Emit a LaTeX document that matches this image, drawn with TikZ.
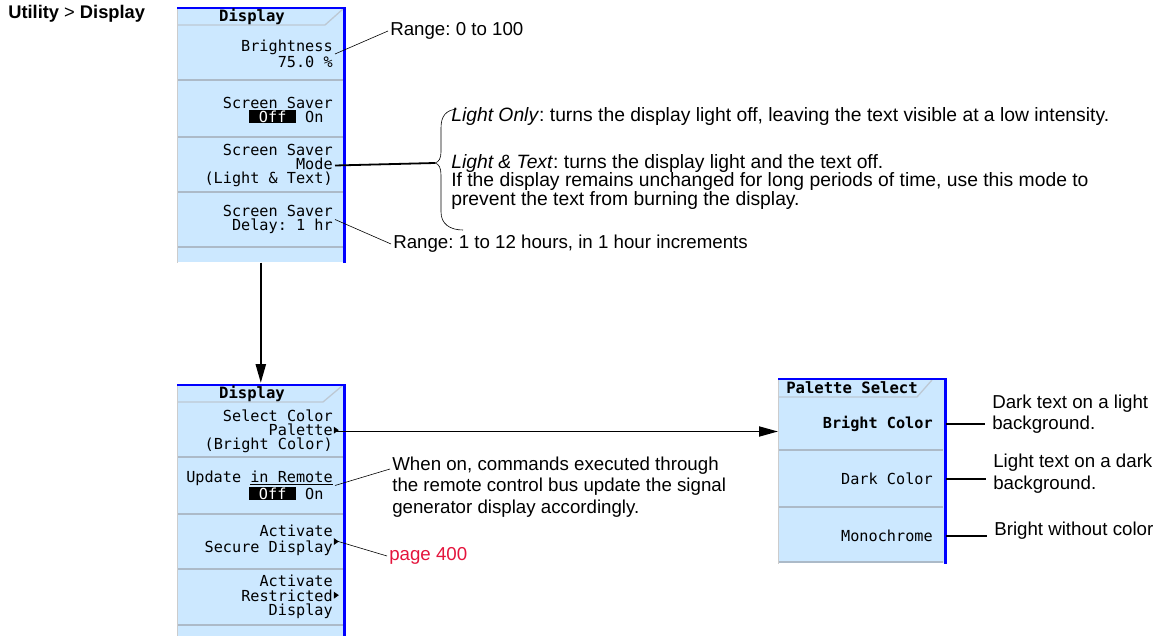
\documentclass[tikz,border=0pt]{standalone}
\usepackage{fontspec}
\usepackage{xcolor}
\usetikzlibrary{arrows.meta, positioning}
\setmainfont{Liberation Sans}
\newfontfamily\keyfont{DejaVu Sans Mono}
\frenchspacing
\definecolor{keyblue}{RGB}{204,232,255}
\definecolor{divgray}{RGB}{172,186,200}
\definecolor{edgeblue}{RGB}{0,0,255}
\definecolor{linkred}{RGB}{228,20,60}
\newcommand{\offon}{{\setlength{\fboxsep}{0.5pt}\colorbox{black}{\textcolor{white}{\ Off\ }}}\ On\hphantom{x}}
\newcommand{\more}[1][2pt]{\rlap{\kern1pt\raisebox{#1}{\tikz\fill (0pt,0pt) -- (0pt,7pt) -- (5pt,3.5pt) -- cycle;}}}

\begin{document}
\begin{tikzpicture}[x=1pt,y=-1pt,>={Triangle[length=19pt,width=10pt]},semithick]
        \tikzstyle{menu}=[fill=keyblue,minimum width=167pt,anchor=north west,inner sep=0pt]
        \tikzstyle{divider}=[draw=divgray,line width=1.5pt]
        \tikzstyle{tabline}=[draw=divgray!80,line width=1.3pt]
        \tikzstyle{blueedge}=[draw=edgeblue,line width=2.5pt]
        \tikzstyle{leftedge}=[draw=black!20,line width=0.8pt]
        \tikzstyle{softkey}=[font=\keyfont\fontsize{15.2}{14.3}\selectfont,align=right,anchor=east,inner sep=2pt]
        \tikzstyle{keytitle}=[font=\keyfont\bfseries\fontsize{15.6}{14.3}\selectfont,inner sep=0pt]
        \tikzstyle{note}=[font=\fontsize{18.7}{21.5}\selectfont,align=left,anchor=west,inner sep=2pt]

        \useasboundingbox (0,0) rectangle (1159,636);

        % menu panels
        \node[menu,minimum height=254pt] (menu1) at (177,8) {};
        \node[menu,minimum height=251pt] (menu2) at (177,385) {};
        \node[menu,minimum height=184pt] (palmenu) at (778,379) {};

        \foreach \y in {80,137,192,247} \draw[divider] (177,\y) -- (343,\y);
        \foreach \y in {457,514,569,625} \draw[divider] (177,\y) -- (343,\y);
        \foreach \y in {450,507,562} \draw[divider] (778,\y) -- (943,\y);
        \draw[tabline] (177,25) -- (325,25) -- (343,9);
        \draw[tabline] (177,402) -- (323,402) -- (342,386);
        \draw[tabline] (778,397) -- (917,397) -- (932,380);

        \draw[leftedge] (menu1.north west) -- (menu1.south west);
        \draw[leftedge] (menu2.north west) -- (menu2.south west);
        \draw[leftedge] (palmenu.north west) -- (palmenu.south west);
        \draw[blueedge] (menu1.north west) -- (menu1.north east) -- (menu1.south east);
        \draw[blueedge] (menu2.north west) -- (menu2.north east) -- (menu2.south east);
        \draw[blueedge] (palmenu.north west) -- (palmenu.north east) -- (palmenu.south east);

        % softkey labels
        \node[keytitle] (disp1) at (252,17) {Display};
        \node[softkey] (brightkey) at (335,54) {Brightness\\75.0 \%};
        \node[softkey] (saverkey) at (335,110) {Screen Saver\\\offon};
        \node[softkey] (modekey) at (335,165.5) {Screen Saver\\Mode\\(Light \& Text)};
        \node[softkey] (delaykey) at (335,219.5) {Screen Saver\\Delay: 1 hr};

        \node[keytitle] (disp2) at (252,394) {Display};
        \node[softkey] (palettekey) at (335,431.5) {Select Color\\Palette\more\\(Bright Color)};
        \node[softkey] (remotekey) at (335,485.5) {Update \underline{in Remote}\\\offon};
        \node[softkey] (securekey) at (335,540.5) {Activate\\Secure Display\more[7.5pt]};
        \node[softkey] (restrictkey) at (335,597) {Activate\\Restricted\more[2.5pt]\\Display};

        \node[keytitle] (paltitle) at (852,388) {Palette Select};
        \node[softkey,font=\keyfont\bfseries\fontsize{15.2}{14.3}\selectfont] (brightcolor) at (935,424) {Bright Color};
        \node[softkey] (darkcolor) at (935,479) {Dark Color};
        \node[softkey] (mono) at (935,536) {Monochrome};

        % notes
        \node[note,font=\fontsize{18.3}{20}\selectfont] (path) at (6,14) {\textbf{Utility} > \textbf{Display}};
        \node[note] (range1) at (388,31) {Range: 0 to 100};
        \node[note,font=\fontsize{19.3}{18.6}\selectfont] (lightonly) at (449,117) {\textit{Light Only}: turns the display light off, leaving the text visible at a low intensity.};
        \node[note,font=\fontsize{19.3}{18.6}\selectfont] (lighttext) at (449,182) {\textit{Light \& Text}: turns the display light and the text off.\\If the display remains unchanged for long periods of time, use this mode to\\prevent the text from burning the display.};
        \node[note] (range2) at (391,244) {Range: 1 to 12 hours, in 1 hour increments};
        \node[note] (whenon) at (390,487) {When on, commands executed through\\the remote control bus update the signal\\generator display accordingly.};
        \node[note,text=linkred] (page400) at (387,556) {page 400};
        \node[note] (darktext) at (990,414) {Dark text on a light\\background.};
        \node[note] (darkbg) at (991,473.5) {Light text on a dark\\background.};
        \node[note] (nocolor) at (992,531) {Bright without color};

        \coordinate (bracetip) at (435,163);
        \draw (457,109) .. controls (446,110) and (441,116) .. (441,128) -- (441,152)
              .. controls (441,158) and (439,162) .. (bracetip)
              .. controls (439,164) and (441,168) .. (441,175) -- (441,212)
              .. controls (441,224) and (450,230) .. (463,230);

        % connectors
        \draw (brightkey.east) -- (range1.west);
        \draw[line width=1.8pt] (modekey.east) -- (bracetip);
        \draw (delaykey.east) -- (range2.west);
        \draw[->,line width=2.4pt,shorten >=2pt] (menu1.south) -- (menu2.north);
        \draw[->,line width=1.8pt] (palettekey.east) -- (palettekey.east -| palmenu.west);
        \draw (remotekey.east) -- ([yshift=18pt]whenon.west);
        \draw (securekey.east) -- (page400.west);
        \draw[line width=1.8pt,shorten >=5pt] (brightcolor.east -| palmenu.east) -- (brightcolor.east -| darktext.west);
        \draw[line width=1.8pt,shorten >=5pt] (darkcolor.east -| palmenu.east) -- (darkcolor.east -| darkbg.west);
        \draw[line width=1.8pt,shorten >=5pt] (mono.east -| palmenu.east) -- (mono.east -| nocolor.west);
\end{tikzpicture}
\end{document}
